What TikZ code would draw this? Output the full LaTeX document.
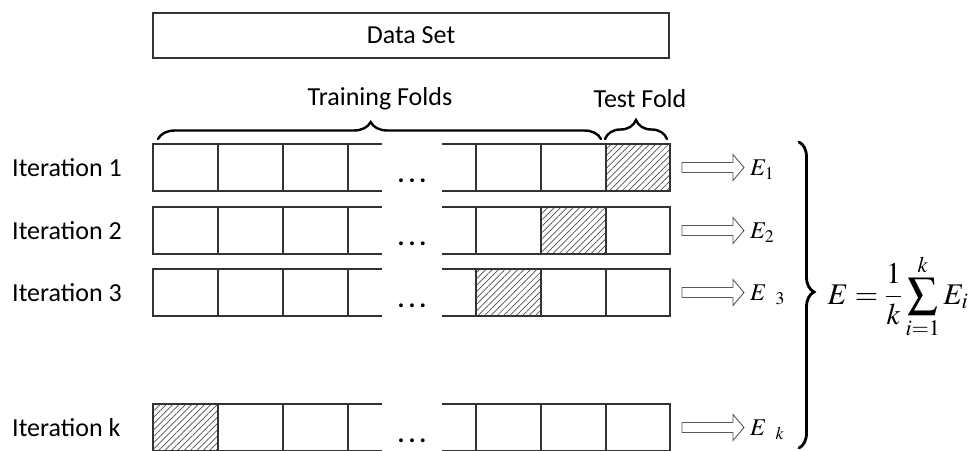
\documentclass[tikz,border=0pt]{standalone}
\usepackage{mathptmx}
\usepackage[no-math]{fontspec}
\setmainfont{Carlito}
\usetikzlibrary{decorations.pathreplacing,patterns.meta,calc}
\begin{document}
\begin{tikzpicture}[x=1pt,y=-1pt,
  cell/.style={draw=black!80,line width=1.5pt},
  hatch/.style={pattern={Lines[angle=45,distance=4.5pt,line width=0.7pt]},pattern color=black!70},
  lbl/.style={font=\fontsize{26}{30}\selectfont,inner sep=0pt},
  elbl/.style={font=\fontsize{24}{28}\selectfont,inner sep=0pt,anchor=base west},
  hollow/.style={draw=black!65,line width=0.9pt,fill=white},
  bigbrace/.style={decorate,line width=2.4pt,line cap=round}]
\useasboundingbox (0,0) rectangle (971,450);
\node[draw=black!80,line width=1.5pt,minimum width=516pt,minimum height=45pt,lbl] (ds) at (411,35.5) {Data Set};
\node[lbl] (tr) at (380,99) {Training Folds};
\node[lbl] (te) at (640,99) {Test Fold};
\draw[bigbrace,decoration={brace,amplitude=17pt,aspect=0.48}] (158,139) -- (601,139);
\draw[bigbrace,decoration={brace,amplitude=19pt}] (605,139) -- (667,139);
\foreach \r/\ty/\hx/\lab/\elab in {1/144/606/Iteration 1/{$E_1$},2/207/541/Iteration 2/{$E_2$},3/269/476/Iteration 3/{$E\hspace{9pt}{}_3$},k/404/153/Iteration k/{$E\hspace{9pt}{}_k$}}{
  \fill[hatch] (\hx,\ty) rectangle (\hx+64.5,\ty+47);
  \draw[cell] (382,\ty) -- (153,\ty) -- (153,\ty+47) -- (382,\ty+47);
  \draw[cell] (442,\ty) -- (670,\ty) -- (670,\ty+47) -- (442,\ty+47);
  \foreach \vx in {218,283,348,476,541,606}{\draw[cell] (\vx,\ty) -- (\vx,\ty+47);}
  \node[lbl,anchor=west] (it\r) at (12,\ty+23.5) {\lab};
  \node[lbl,anchor=base] (dots\r) at (412,\ty+38) {\bfseries .\kern4pt.\kern4pt.};
  \coordinate (row\r) at (670,\ty+23.5);
  \draw[hollow] ($(row\r)+(12,-5)$) -- ++(51,0) -- ++(0,-8) -- ++(11,13) -- ++(-11,13) -- ++(0,-8) -- ++(-51,0) -- cycle;
  \node[elbl] (e\r) at ($(row\r)+(80,8)$) {\elab};
}
\draw[bigbrace,line width=2.8pt,decoration={brace,amplitude=15pt,aspect=0.49}] (799,142) -- (799,448);
\node[font=\fontsize{30}{36}\selectfont,inner sep=0pt] (f) at (898,296) {$\displaystyle E=\frac{1}{k}\sum_{i=1}^{k}E_i$};
\end{tikzpicture}
\end{document}
